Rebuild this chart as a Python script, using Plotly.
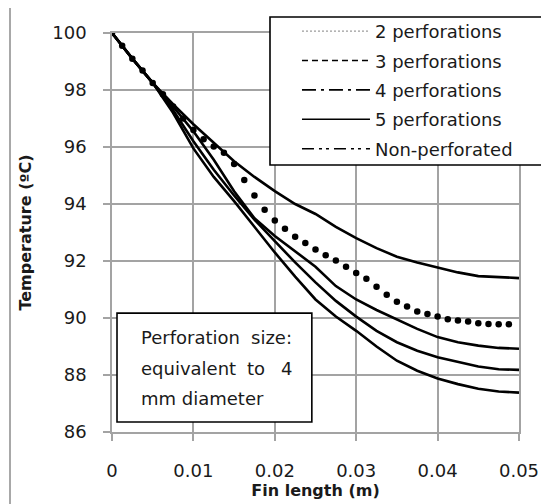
import plotly.graph_objects as go

# ---------------- data ----------------
x_main = [0, 0.0025, 0.005, 0.0075, 0.01, 0.0125, 0.015, 0.0175, 0.02, 0.0225,
          0.025, 0.0275, 0.03, 0.0325, 0.035, 0.0375, 0.04, 0.0425, 0.045, 0.0475, 0.05]

non_perforated = [100, 99.1, 98.25, 97.5, 96.8, 96.15, 95.5, 94.95, 94.45, 94.0,
                  93.65, 93.2, 92.8, 92.45, 92.15, 91.95, 91.78, 91.6, 91.47, 91.44, 91.40]
perf_3 = [100, 99.1, 98.25, 97.42, 96.55, 95.55, 94.45, 93.5, 92.88, 92.33,
          91.8, 91.12, 90.65, 90.28, 89.95, 89.62, 89.33, 89.15, 89.03, 88.95, 88.92]
perf_4 = [100, 99.1, 98.25, 97.3, 96.2, 95.2, 94.3, 93.45, 92.7, 91.95,
          91.25, 90.6, 90.05, 89.55, 89.15, 88.85, 88.62, 88.45, 88.3, 88.2, 88.18]
perf_5 = [100, 99.1, 98.25, 97.2, 95.95, 94.95, 94.1, 93.2, 92.3, 91.45,
          90.65, 90.05, 89.55, 89.0, 88.5, 88.15, 87.88, 87.68, 87.52, 87.42, 87.38]

x_dots = [0, 0.00125, 0.0025, 0.00375, 0.005, 0.00625, 0.0075, 0.00875, 0.01, 0.01125,
          0.0125, 0.01375, 0.015, 0.01625, 0.0175, 0.01875, 0.02, 0.02125, 0.0225, 0.02375,
          0.025, 0.02625, 0.0275, 0.02875, 0.03, 0.03125, 0.0325, 0.03375, 0.035, 0.03625,
          0.0375, 0.03875, 0.04, 0.04125, 0.0425, 0.04375, 0.045, 0.04625, 0.0475, 0.04875]
perf_2 = [100, 99.55, 99.1, 98.68, 98.25, 97.85, 97.42, 97.0, 96.6, 96.27,
          96.02, 95.8, 95.4, 94.84, 94.3, 93.8, 93.42, 93.13, 92.85, 92.63,
          92.4, 92.2, 92.02, 91.8, 91.58, 91.38, 91.1, 90.82, 90.57, 90.4,
          90.23, 90.14, 90.05, 89.96, 89.91, 89.88, 89.82, 89.79, 89.78, 89.78]

legend_names = ["2 perforations", "3 perforations", "4 perforations", "5 perforations", "Non-perforated"]
legend_dash = ["2px,2px", "6px,4px", "14px,5px,3px,5px", "solid", "12px,5px,3px,4px,3px,5px"]
legend_color = ["#9a9a9a", "black", "black", "black", "black"]
legend_width = [1.2, 1.6, 1.6, 1.6, 1.6]

x_ticks = [0, 0.01, 0.02, 0.03, 0.04, 0.05]
x_ticklabels = ["0", "0.01", "0.02", "0.03", "0.04", "0.05"]
y_ticks = [86, 88, 90, 92, 94, 96, 98, 100]

FONT = "DejaVu Sans"
GRID = "#a3a3a3"
TXT = "#1a1a1a"

fig = go.Figure()

# curves as they appear in the plot
for name, ys in [("Non-perforated", non_perforated), ("3 perforations", perf_3),
                 ("4 perforations", perf_4), ("5 perforations", perf_5)]:
    fig.add_trace(go.Scatter(x=x_main, y=ys, mode="lines", name=name, showlegend=False,
                             line=dict(color="black", width=2.6)))
fig.add_trace(go.Scatter(x=x_dots, y=perf_2, mode="markers", name="2 perforations", showlegend=False,
                         marker=dict(color="black", size=6.5)))

# legend entries
for i, (nm, d, c, w) in enumerate(zip(legend_names, legend_dash, legend_color, legend_width)):
    fig.add_trace(go.Scatter(x=[None], y=[None], mode="lines", name=nm, legendgroup=f"g{i}",
                             line=dict(color=c, width=w, dash=d)))

# outer frame of the picture
fig.add_shape(type="rect", xref="paper", yref="paper", x0=-0.2506, x1=1.25, y0=-0.35, y1=1.065,
              line=dict(color="#a8a8a8", width=2), fillcolor="rgba(0,0,0,0)", layer="below")

# legend box
fig.add_shape(type="rect", xref="paper", yref="paper", x0=0.3882, x1=1.0565, y0=0.6692, y1=1.0401,
              line=dict(color="black", width=1.6), fillcolor="white", layer="above")

# note box
fig.add_shape(type="rect", xref="paper", yref="paper", x0=0.0123, x1=0.491, y0=0.025, y1=0.298,
              line=dict(color="black", width=1.6), fillcolor="white", layer="above")
note_font = dict(family=FONT, size=18, color=TXT)
notes = [
    ("Perforation", 0.0663, 0.2356, "left"),
    ("size:", 0.4474, 0.2356, "right"),
    ("equivalent", 0.0663, 0.1604, "left"),
    ("to", 0.354, 0.1604, "center"),
    ("4", 0.4474, 0.1604, "right"),
    ("mm diameter", 0.0663, 0.0852, "left"),
]
for t, xx, yy, anc in notes:
    fig.add_annotation(text=t, xref="paper", yref="paper", x=xx, y=yy, xanchor=anc, yanchor="middle",
                       showarrow=False, font=note_font)

fig.update_layout(
    width=541, height=496,
    margin=dict(l=104, r=30, t=25, b=72, autoexpand=False),
    paper_bgcolor="white", plot_bgcolor="white",
    font=dict(family=FONT, size=18, color=TXT),
    xaxis=dict(range=[0, 0.05], tickvals=x_ticks, ticktext=x_ticklabels, automargin=False,
               showgrid=True, gridcolor=GRID, gridwidth=1.5, zeroline=False,
               showline=True, mirror=True, linecolor=GRID, linewidth=1.5,
               ticks="outside", ticklen=7, tickcolor=GRID, tickwidth=1.5,
               ticklabelstandoff=15,
               tickfont=dict(family=FONT, size=18, color=TXT),
               title=dict(text="<b>Fin length (m)</b>", standoff=0,
                          font=dict(family=FONT, size=16, color=TXT))),
    yaxis=dict(range=[86, 100], tickvals=y_ticks, automargin=False,
               showgrid=True, gridcolor=GRID, gridwidth=1.5, zeroline=False,
               showline=True, mirror=True, linecolor=GRID, linewidth=1.5,
               ticks="outside", ticklen=7, tickcolor=GRID, tickwidth=1.5,
               ticklabelstandoff=13,
               tickfont=dict(family=FONT, size=18, color=TXT),
               title=dict(text="<b>Temperature (ºC)</b>", standoff=17,
                          font=dict(family=FONT, size=16, color=TXT))),
    legend=dict(x=0.4545, y=1.0504, xanchor="left", yanchor="top",
                bgcolor="rgba(0,0,0,0)", borderwidth=0,
                font=dict(family=FONT, size=18, color=TXT),
                traceorder="grouped", tracegroupgap=3, itemwidth=68),
)

fig.write_html("out.html")
